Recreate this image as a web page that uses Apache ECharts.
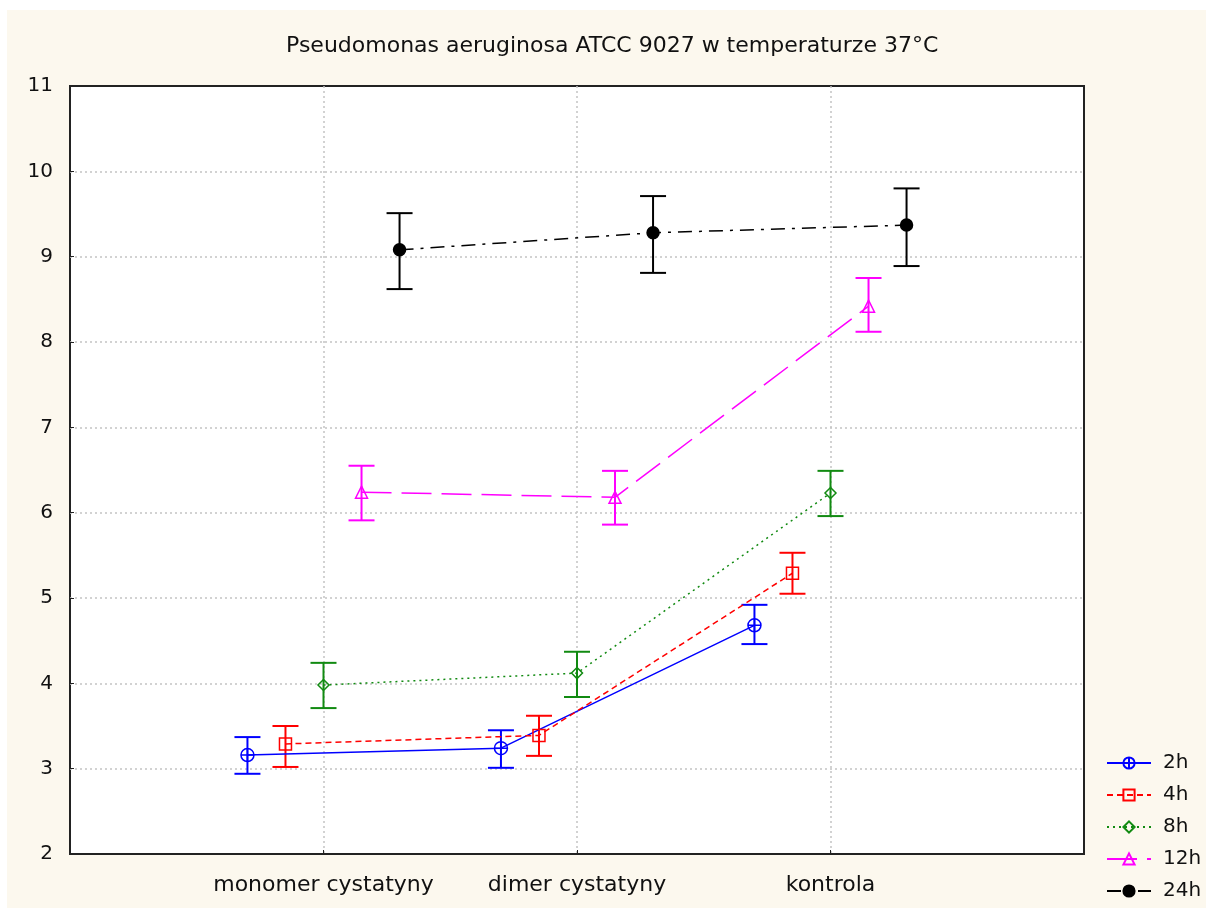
<!DOCTYPE html>
<html>
<head>
<meta charset="utf-8">
<script src="https://cdn.jsdelivr.net/npm/echarts@6/dist/echarts.min.js"></script>
<style>
html,body{margin:0;padding:0;background:#ffffff;}
#bg{position:absolute;left:7px;top:10px;width:1199px;height:898px;background:#fcf8ee;}
#chart{position:absolute;left:0;top:0;width:1206px;height:911px;}
</style>
</head>
<body>
<div id="bg"></div>
<div id="chart"></div>
<script>
// ---- data ----
const categories = ['monomer cystatyny', 'dimer cystatyny', 'kontrola'];
const seriesNames = ['2h', '4h', '8h', '12h', '24h'];
const yTicks = [2, 3, 4, 5, 6, 7, 8, 9, 10, 11];

const mean2h  = [3.16, 3.24, 4.68];
const lower2h = [2.94, 3.01, 4.46];
const upper2h = [3.37, 3.45, 4.92];

const mean4h  = [3.29, 3.39, 5.29];
const lower4h = [3.02, 3.15, 5.05];
const upper4h = [3.50, 3.62, 5.53];

const mean8h  = [3.98, 4.12, 6.23];
const lower8h = [3.71, 3.84, 5.96];
const upper8h = [4.24, 4.37, 6.49];

const mean12h  = [6.24, 6.18, 8.42];
const lower12h = [5.91, 5.86, 8.12];
const upper12h = [6.55, 6.49, 8.75];

const mean24h  = [9.08, 9.28, 9.37];
const lower24h = [8.62, 8.81, 8.89];
const upper24h = [9.51, 9.71, 9.80];

// ---- styling / build ----
const FONT = 'DejaVu Sans';
const defs = [
  {name: '2h',  mean: mean2h,  lo: lower2h,  hi: upper2h,  off: -0.30, color: '#0000ff',
   dash: 'solid', symbol: 'path://M0,-10A10,10 0 1,1 0,10A10,10 0 1,1 0,-10M0,-10L0,10M-10,0L10,0', size: 13, fill: 'rgba(255,255,255,0)'},
  {name: '4h',  mean: mean4h,  lo: lower4h,  hi: upper4h,  off: -0.15, color: '#ff0000',
   dash: [6, 4], symbol: 'rect', size: 12, fill: 'rgba(255,255,255,0)'},
  {name: '8h',  mean: mean8h,  lo: lower8h,  hi: upper8h,  off: 0.00,  color: '#118a11',
   dash: [2, 4], symbol: 'diamond', size: 11, fill: 'rgba(255,255,255,0)'},
  {name: '12h', mean: mean12h, lo: lower12h, hi: upper12h, off: 0.15,  color: '#ff00ff',
   dash: [30, 10], symbol: 'triangle', size: 12, fill: 'rgba(255,255,255,0)'},
  {name: '24h', mean: mean24h, lo: lower24h, hi: upper24h, off: 0.30,  color: '#000000',
   dash: [14, 7, 3, 7], symbol: 'circle', size: 12, fill: '#000000'}
];

const series = [];
defs.forEach(d => {
  series.push({
    name: d.name,
    type: 'line',
    data: d.mean.map((v, i) => [i + 1 + d.off, v]),
    symbol: d.symbol,
    symbolSize: d.size,
    showSymbol: true,
    lineStyle: {color: d.color, width: 1.5, type: d.dash},
    itemStyle: {color: d.fill, borderColor: d.color, borderWidth: 1.5},
    z: 3,
    animation: false
  });
});
defs.forEach(d => {
  series.push({
    name: d.name,
    type: 'custom',
    data: d.mean.map((v, i) => [i + 1 + d.off, d.lo[i], d.hi[i]]),
    renderItem: function (params, api) {
      const x = api.value(0);
      const lo = api.coord([x, api.value(1)]);
      const hi = api.coord([x, api.value(2)]);
      const w = 13;
      const st = {stroke: d.color, lineWidth: 2};
      return {
        type: 'group',
        children: [
          {type: 'line', shape: {x1: lo[0], y1: lo[1], x2: hi[0], y2: hi[1]}, style: st},
          {type: 'line', shape: {x1: lo[0] - w, y1: lo[1], x2: lo[0] + w, y2: lo[1]}, style: st},
          {type: 'line', shape: {x1: hi[0] - w, y1: hi[1], x2: hi[0] + w, y2: hi[1]}, style: st}
        ]
      };
    },
    z: 2,
    animation: false
  });
});

const chart = echarts.init(document.getElementById('chart'), null, {renderer: 'canvas'});
chart.setOption({
  backgroundColor: 'transparent',
  animation: false,
  title: {
    text: 'Pseudomonas aeruginosa ATCC 9027 w temperaturze 37°C',
    left: 286,
    top: 35,
    padding: 0,
    textStyle: {fontFamily: FONT, fontSize: 22, fontWeight: 'normal', color: '#111'}
  },
  legend: {
    data: seriesNames,
    orient: 'vertical',
    left: 1106,
    top: 753,
    padding: 0,
    itemWidth: 44,
    itemHeight: 14,
    itemGap: 12,
    textStyle: {fontFamily: FONT, fontSize: 20, color: '#111', padding: [0, 0, 0, 7]}
  },
  grid: {
    left: 70, top: 86, right: 122, bottom: 57,
    show: true, backgroundColor: '#ffffff', borderColor: '#222', borderWidth: 2
  },
  xAxis: {
    type: 'value',
    min: 0, max: 4, interval: 1,
    axisLine: {show: false},
    axisTick: {show: true, inside: true, length: 4, lineStyle: {color: '#222'}},
    splitLine: {show: true, showMinLine: false, showMaxLine: false, lineStyle: {color: '#c4c4c4', type: [2, 3], width: 1.5}},
    axisLabel: {
      margin: 20,
      fontFamily: FONT, fontSize: 22, color: '#111',
      formatter: v => (v >= 1 && v <= 3 && Math.round(v) === v) ? categories[v - 1] : ''
    }
  },
  yAxis: {
    type: 'value',
    min: yTicks[0], max: yTicks[yTicks.length - 1], interval: 1,
    axisLine: {show: false},
    axisTick: {show: true, inside: true, length: 4, lineStyle: {color: '#222'}},
    splitLine: {show: true, showMinLine: false, showMaxLine: false, lineStyle: {color: '#c4c4c4', type: [2, 3], width: 1.5}},
    axisLabel: {margin: 17, fontFamily: FONT, fontSize: 20, color: '#111'}
  },
  series: series
});
</script>
</body>
</html>
